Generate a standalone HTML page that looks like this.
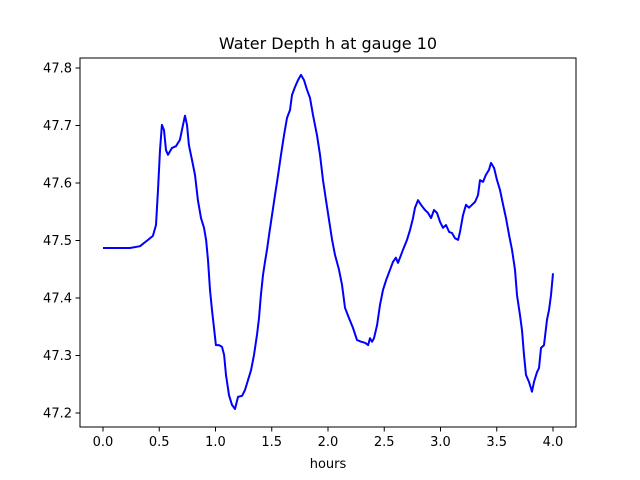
<!DOCTYPE html>
<html><head><meta charset="utf-8"><style>
html,body{margin:0;padding:0;background:#fff}
svg{display:block;font-family:"DejaVu Sans","Liberation Sans",sans-serif}
</style></head><body>
<svg id="chart" width="640" height="480">
<rect width="640" height="480" fill="#fff"/>
<text x="328" y="49" text-anchor="middle" font-size="16">Water Depth h at gauge 10</text>
<g id="grid"></g>
<path id="line" fill="none" stroke="#0000ff" stroke-width="2" stroke-linejoin="round"/>
<rect x="80" y="58" width="496" height="369" fill="none" stroke="#000" stroke-width="1"/>
<text x="328" y="468" text-anchor="middle" font-size="13">hours</text>
</svg>
<script>
const hours=[0,0.24,0.329,0.4,0.444,0.471,0.489,0.507,0.524,0.542,0.56,0.578,0.613,0.649,0.684,0.711,0.729,0.747,0.764,0.791,0.818,0.844,0.871,0.898,0.916,0.933,0.951,0.969,0.987,1.004,1.031,1.058,1.076,1.093,1.12,1.147,1.173,1.2,1.236,1.262,1.289,1.316,1.342,1.369,1.387,1.404,1.422,1.44,1.458,1.476,1.502,1.529,1.556,1.582,1.609,1.636,1.662,1.68,1.707,1.733,1.76,1.787,1.813,1.84,1.867,1.902,1.929,1.956,1.982,2.009,2.036,2.062,2.098,2.124,2.151,2.187,2.222,2.258,2.293,2.329,2.356,2.373,2.391,2.409,2.436,2.462,2.489,2.516,2.551,2.578,2.604,2.622,2.64,2.667,2.702,2.729,2.756,2.773,2.8,2.827,2.862,2.889,2.916,2.942,2.969,2.996,3.022,3.049,3.076,3.102,3.129,3.156,3.173,3.2,3.227,3.253,3.28,3.307,3.333,3.351,3.378,3.404,3.431,3.449,3.476,3.502,3.529,3.556,3.582,3.609,3.636,3.662,3.68,3.707,3.724,3.742,3.76,3.787,3.813,3.831,3.858,3.876,3.893,3.92,3.947,3.964,3.982,4.0];
const depth=[47.487,47.487,47.490,47.501,47.508,47.527,47.588,47.657,47.701,47.692,47.657,47.649,47.661,47.664,47.675,47.701,47.717,47.701,47.666,47.640,47.614,47.570,47.539,47.522,47.501,47.466,47.414,47.379,47.348,47.318,47.318,47.315,47.301,47.266,47.231,47.214,47.207,47.228,47.230,47.240,47.257,47.275,47.301,47.336,47.365,47.405,47.440,47.463,47.484,47.510,47.544,47.579,47.614,47.649,47.683,47.713,47.727,47.753,47.767,47.779,47.788,47.779,47.762,47.748,47.718,47.683,47.649,47.605,47.570,47.536,47.501,47.475,47.449,47.423,47.383,47.365,47.348,47.327,47.324,47.322,47.318,47.330,47.324,47.330,47.353,47.388,47.414,47.431,47.449,47.463,47.470,47.461,47.470,47.484,47.501,47.518,47.539,47.557,47.570,47.562,47.553,47.548,47.539,47.553,47.548,47.532,47.522,47.527,47.515,47.513,47.504,47.501,47.515,47.544,47.562,47.557,47.562,47.567,47.579,47.605,47.602,47.614,47.623,47.635,47.626,47.605,47.588,47.562,47.539,47.510,47.484,47.449,47.405,47.370,47.344,47.301,47.266,47.254,47.237,47.254,47.271,47.278,47.313,47.318,47.362,47.379,47.405,47.443];
const xTicks=[0,0.5,1,1.5,2,2.5,3,3.5,4];
const xTickLabels=["0.0","0.5","1.0","1.5","2.0","2.5","3.0","3.5","4.0"];
const yTicks=[47.2,47.3,47.4,47.5,47.6,47.7,47.8];
const yTickLabels=["47.2","47.3","47.4","47.5","47.6","47.7","47.8"];
const X=t=>103+t*112.5;
const Y=v=>68+(47.8-v)*575;
const ns="http://www.w3.org/2000/svg";
const g=document.getElementById('grid');
xTicks.forEach((t,i)=>{
  const l=document.createElementNS(ns,'line');
  
  
  l.setAttribute('x1',X(t));l.setAttribute('x2',X(t));l.setAttribute('y1',427);l.setAttribute('y2',431.5);l.setAttribute('stroke','#000');
  g.appendChild(l);
  const tx=document.createElementNS(ns,'text');
  
  
  tx.setAttribute('x',X(t));tx.setAttribute('y',446);tx.setAttribute('text-anchor','middle');tx.setAttribute('font-size','13');
  tx.textContent=xTickLabels[i];g.appendChild(tx);
});
yTicks.forEach((v,i)=>{
  const l=document.createElementNS(ns,'line');
  
  
  l.setAttribute('x1',75.5);l.setAttribute('x2',80);l.setAttribute('y1',Y(v));l.setAttribute('y2',Y(v));l.setAttribute('stroke','#000');
  g.appendChild(l);
  const tx=document.createElementNS(ns,'text');
  
  
  tx.setAttribute('x',72);tx.setAttribute('y',Y(v)+4.5);tx.setAttribute('text-anchor','end');tx.setAttribute('font-size','13');
  tx.textContent=yTickLabels[i];g.appendChild(tx);
});
document.getElementById('line').setAttribute('d',hours.map((t,i)=>(i?'L':'M')+X(t).toFixed(1)+','+Y(depth[i]).toFixed(1)).join(''));
</script>
</body></html>
